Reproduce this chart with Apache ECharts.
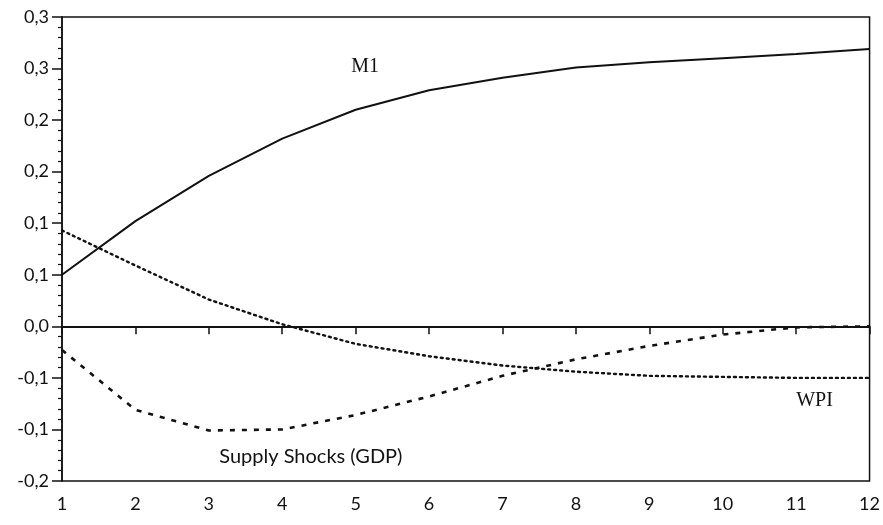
<!DOCTYPE html>
<html lang="en">
<head>
    <meta charset="UTF-8" />
    <title>Impulse responses</title>
    <style>
        html, body { margin: 0; padding: 0; background: #fff; }
        #chart { width: 883px; height: 525px; }
    </style>
</head>
<body>
    <div id="chart"></div>
<script src="https://cdn.jsdelivr.net/npm/echarts@6/dist/echarts.min.js"></script>
<script type="text/javascript">
    // periods on the x axis
    var periods = [1, 2, 3, 4, 5, 6, 7, 8, 9, 10, 11, 12];
    // responses
    var m1 = [0.050, 0.102, 0.146, 0.182, 0.210, 0.229, 0.241, 0.251, 0.256, 0.260, 0.264, 0.269];
    var wpi = [0.093, 0.059, 0.026, 0.002, -0.017, -0.029, -0.038, -0.044, -0.048, -0.049, -0.050, -0.050];
    var supply = [-0.023, -0.081, -0.101, -0.100, -0.086, -0.068, -0.048, -0.032, -0.019, -0.008, -0.001, 0.000];
    // y tick labels as printed (rounded to one decimal)
    var yTickLabels = ['-0,2', '-0,1', '-0,1', '0,0', '0,1', '0,1', '0,2', '0,2', '0,3', '0,3'];
    // where the curve names sit, in data units
    var m1LabelAt = [5.13, 0.252];
    var wpiLabelAt = [11.25, -0.072];
    var supplyLabelAt = [4.39, -0.126];

    function pairs(ys) {
        return periods.map(function (p, i) { return [p, ys[i]]; });
    }

    function nameMark(text, at, font) {
        return {
            silent: true,
            symbol: 'circle',
            symbolSize: 0,
            data: [{ coord: at }],
            label: {
                show: true,
                position: 'inside',
                formatter: text,
                color: '#111',
                fontFamily: font,
                fontSize: 20
            }
        };
    }

    var myChart = echarts.init(document.getElementById('chart'));
    var option = {
        animation: false,
        backgroundColor: '#fff',
        grid: {
            left: 62, right: 12, top: 17, bottom: 44,
            show: true,
            borderColor: '#111',
            borderWidth: 1.5
        },
        xAxis: {
            type: 'value',
            min: 1, max: 12, interval: 1,
            axisLine: { lineStyle: { color: '#111', width: 1.5 } },
            axisTick: { length: 8, lineStyle: { color: '#111', width: 1.5 } },
            axisLabel: { color: '#111', fontFamily: 'Lato', fontSize: 18, margin: 14 },
            splitLine: { show: false }
        },
        yAxis: {
            type: 'value',
            min: -0.15, max: 0.30, interval: 0.05,
            axisLine: { show: true, lineStyle: { color: '#111', width: 1.5 } },
            axisTick: { length: 10, lineStyle: { color: '#111', width: 1.5 } },
            minorTick: { show: true, splitNumber: 5, length: 4, lineStyle: { color: '#111', width: 1.2 } },
            axisLabel: {
                color: '#111', fontFamily: 'Lato', fontSize: 18, margin: 13,
                formatter: function (v, i) { return yTickLabels[i]; }
            },
            splitLine: { show: false }
        },
        series: [
            {
                name: 'M1',
                type: 'line',
                data: pairs(m1),
                showSymbol: false,
                lineStyle: { color: '#111', width: 2 },
                markLine: {
                    silent: true,
                    symbol: 'none',
                    label: { show: false },
                    lineStyle: { color: '#111', width: 2, type: 'solid' },
                    data: [{ yAxis: 0 }]
                },
                markPoint: nameMark('M1', m1LabelAt, 'Liberation Serif')
            },
            {
                name: 'WPI',
                type: 'line',
                data: pairs(wpi),
                showSymbol: false,
                lineStyle: { color: '#111', width: 2.4, type: [2, 4], cap: 'round' },
                markPoint: nameMark('WPI', wpiLabelAt, 'Liberation Serif')
            },
            {
                name: 'Supply Shocks (GDP)',
                type: 'line',
                data: pairs(supply),
                showSymbol: false,
                lineStyle: { color: '#111', width: 2.6, type: [5, 7] },
                markPoint: nameMark('Supply Shocks (GDP)', supplyLabelAt, 'Lato')
            }
        ]
    };
    myChart.setOption(option);
    window.onresize = function () {
        myChart.resize();
    };
</script>
</body>
</html>
